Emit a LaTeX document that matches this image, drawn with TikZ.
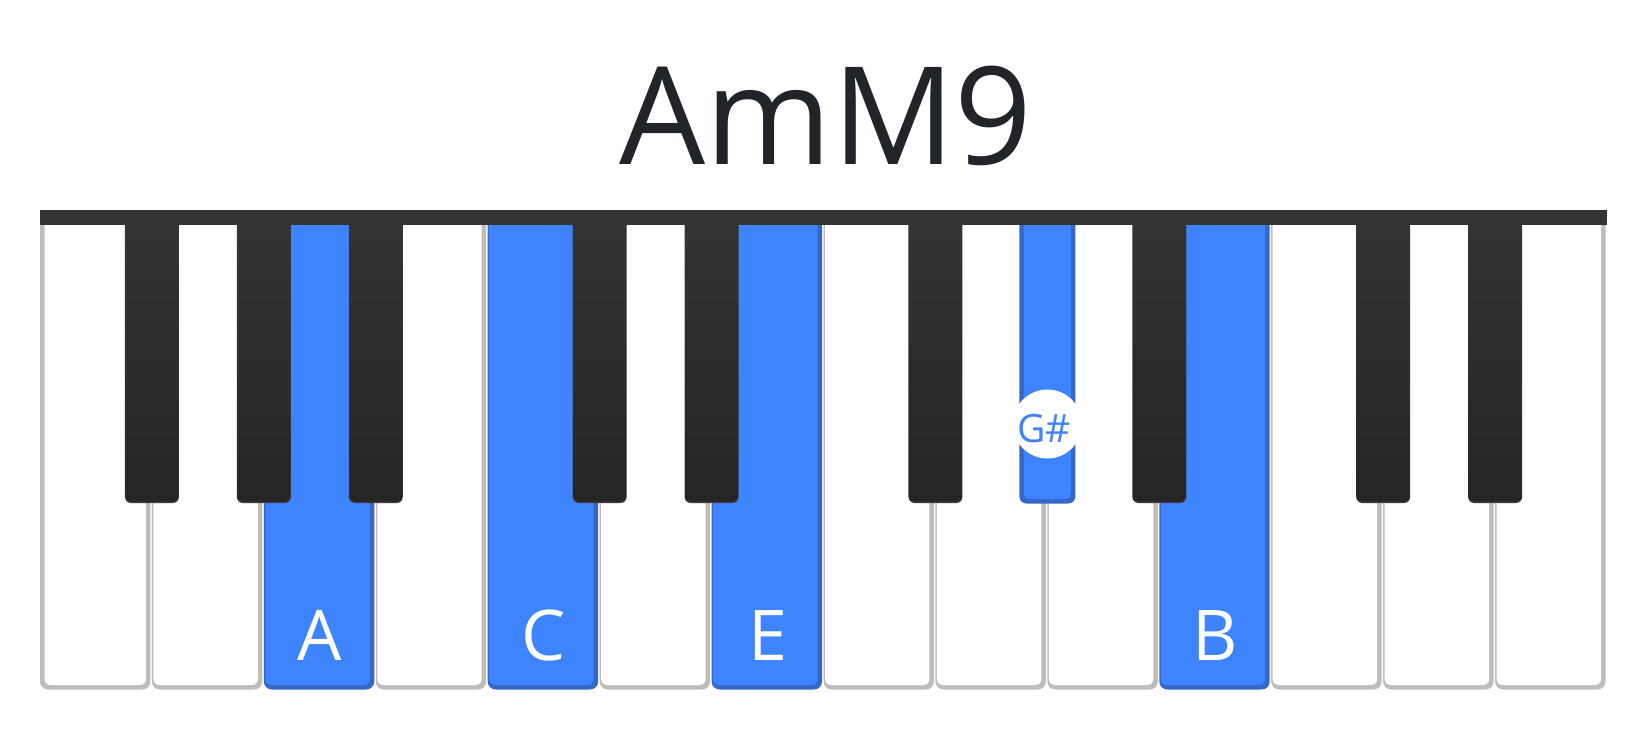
\documentclass[tikz,border=0pt]{standalone}
\usepackage{fontspec}
\setmainfont{Open Sans}
\definecolor{keyface}{HTML}{FFFFFF}
\definecolor{keyedge}{HTML}{BDBDBD}
\definecolor{blueface}{HTML}{3E83FF}
\definecolor{blueedge}{HTML}{3567C4}
\definecolor{barc}{HTML}{333333}
\definecolor{titlec}{HTML}{212529}
\definecolor{blacktop}{HTML}{343434}
\definecolor{blackbot}{HTML}{252525}
\definecolor{blackrim}{HTML}{3C3C3C}
\tikzset{
  notelabel/.style={anchor=base, text=white, font=\fontsize{70}{70}\selectfont, inner sep=0pt},
  titlestyle/.style={anchor=base, text=titlec, font=\fontsize{136}{136}\selectfont, inner sep=0pt},
}
\begin{document}
\begin{tikzpicture}[x=1pt,y=-1pt]
\useasboundingbox (0,0) rectangle (1650,740);
\def\W{111.93}
% white keys: index / edge colour / face colour
\foreach \i/\ec/\fc in {0/keyedge/keyface,1/keyedge/keyface,2/blueedge/blueface,3/keyedge/keyface,
  4/blueedge/blueface,5/keyedge/keyface,6/blueedge/blueface,7/keyedge/keyface,8/keyedge/keyface,
  9/keyedge/keyface,10/blueedge/blueface,11/keyedge/keyface,12/keyedge/keyface,13/keyedge/keyface} {
  \pgfmathsetmacro\L{40+\i*\W}
  \pgfmathsetmacro\R{\L+\W-1.5}
  \pgfmathsetmacro\Li{\i==0 ? \L+4.5 : \L+1.5}
  \pgfmathsetmacro\Ri{\R-4.5}
  \fill[\ec, rounded corners=8pt] (\L,212) rectangle (\R,689.5);
  \fill[\fc, rounded corners=6pt] (\Li,212) rectangle (\Ri,685);
}
% top bar
\fill[barc] (40,210) rectangle (1607,225);
% black keys
\foreach \b in {1,2,3,5,6,8,10,12,13} {
  \pgfmathsetmacro\c{40+\b*\W}
  \fill[blackrim, rounded corners=6pt] (\c-27,215) rectangle (\c+27,503);
  \shade[top color=blacktop, bottom color=blackbot, rounded corners=5pt] (\c-26.5,215) rectangle (\c+26.5,501.5);
}
% G# key (highlighted)
\pgfmathsetmacro\cg{40+9*\W}
\fill[blueedge, rounded corners=7pt] (\cg-28,215) rectangle (\cg+28,503.5);
\fill[blueface, rounded corners=5pt] (\cg-23.5,215) rectangle (\cg+23.5,499);
\fill[barc] (40,210) rectangle (1607,225);
% title
\node[titlestyle] (title) at (826,164) {AmM9};
% labels
\node[notelabel] (lA) at (40+2.5*\W,660) {A};
\node[notelabel] (lC) at (40+4.5*\W,660) {C};
\node[notelabel] (lE) at (40+6.5*\W,660) {E};
\node[notelabel] (lB) at (40+10.5*\W,660) {B};
\node[circle, fill=white, minimum size=69pt, inner sep=0pt] (gsdot) at (\cg,424) {};
\node[anchor=base, text=blueface, font=\fontsize{39}{39}\selectfont, inner sep=0pt] (gs) at (\cg-3,442) {G\#};
\end{tikzpicture}
\end{document}
